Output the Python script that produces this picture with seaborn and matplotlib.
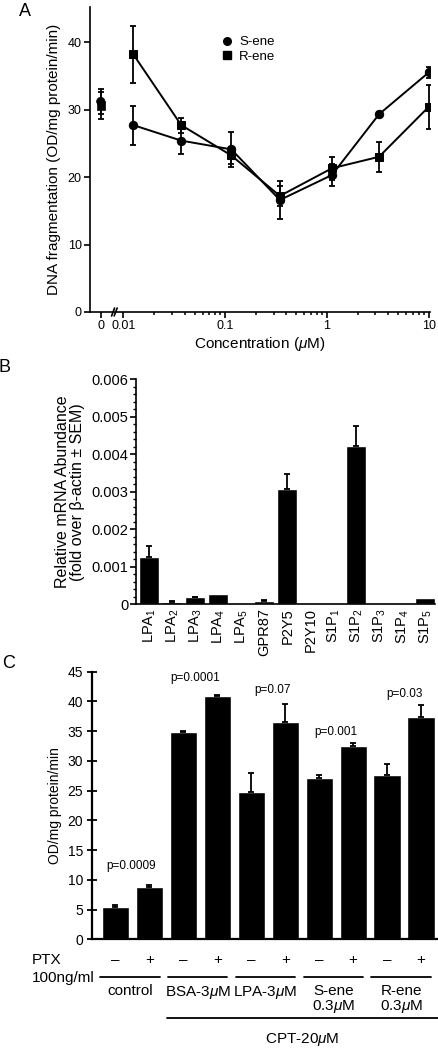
import numpy as np
import pandas as pd
import matplotlib
matplotlib.use('Agg')
import matplotlib.pyplot as plt
import matplotlib.transforms as mtransforms
from matplotlib.lines import Line2D
import seaborn as sns

# ---- panel A: DNA fragmentation vs concentration
conc = [0, 0.0125, 0.037, 0.115, 0.345, 1.12, 3.25, 10]
s_ene = [31.2, 27.7, 25.4, 24.1, 16.6, 20.3, 29.3, 35.5]
s_err = [1.9, 2.9, 2.0, 2.6, 2.8, 1.6, 0.3, 0.8]
r_ene = [30.6, 38.2, 27.7, 23.2, 17.2, 21.3, 23.0, 30.4]
r_err = [2.0, 4.2, 1.1, 1.2, 1.5, 1.7, 2.2, 3.3]
zero_pos = 0.006   # where "0" sits on the log axis

# ---- panel B: receptor mRNA
receptors = ['LPA$_1$', 'LPA$_2$', 'LPA$_3$', 'LPA$_4$', 'LPA$_5$', 'GPR87', 'P2Y5',
             'P2Y10', 'S1P$_1$', 'S1P$_2$', 'S1P$_3$', 'S1P$_4$', 'S1P$_5$']
abund = [0.00127, 0.00007, 0.00019, 0.00027, 0.000005, 0.0001, 0.00307,
         0.0, 0.00002, 0.00422, 0.00002, 0.0, 0.00016]
abund_err = [0.00027, 0.00001, 0.00001, 0.0, 0.0, 0.00001, 0.0004,
             0.0, 0.0, 0.00054, 0.0, 0.0, 0.0]

# ---- panel C: PTX
od = [5.5, 8.85, 34.85, 40.9, 24.8, 36.5, 27.2, 32.5, 27.6, 37.4]
od_err = [0.35, 0.3, 0.25, 0.25, 3.2, 3.1, 0.4, 0.45, 1.9, 2.0]
ptx = ['–', '+'] * 5
groups = ['control', 'BSA-3$\\mu$M', 'LPA-3$\\mu$M', 'S-ene\n0.3$\\mu$M', 'R-ene\n0.3$\\mu$M']
p_text = ['p=0.0009', 'p=0.0001', 'p=0.07', 'p=0.001', 'p=0.03']
p_x = [0.46, 2.35, 4.63, 6.49, 8.51]
p_y = [12.3, 43.9, 41.9, 34.9, 41.2]

sns.set_style('ticks')
plt.rcParams['font.family'] = ['Liberation Sans', 'DejaVu Sans']
plt.rcParams['mathtext.fontset'] = 'custom'
plt.rcParams['mathtext.rm'] = 'Liberation Sans'
plt.rcParams['mathtext.it'] = 'Liberation Sans:italic'
plt.rcParams['axes.edgecolor'] = 'black'
plt.rcParams['text.color'] = 'black'
plt.rcParams['xtick.color'] = 'black'
plt.rcParams['ytick.color'] = 'black'
plt.rcParams['axes.labelcolor'] = 'black'
plt.rcParams['axes.linewidth'] = 1.2

fig = plt.figure(figsize=(4.39, 10.48), dpi=100)
W, H = 439.0, 1048.0
def box(l, t, r, b):
    return [l / W, 1 - b / H, (r - l) / W, (b - t) / H]

axA = fig.add_axes(box(90, 7, 430, 312))
axB = fig.add_axes(box(136, 379, 435, 604.3))
axC = fig.add_axes(box(92, 671.7, 438, 939.3))

# ================= A
dfA = pd.DataFrame({
    'conc': conc * 2,
    'value': s_ene + r_ene,
    'err': s_err + r_err,
    'series': ['S-ene'] * len(conc) + ['R-ene'] * len(conc),
})
dfA['xpos'] = dfA['conc'].where(dfA['conc'] > 0, zero_pos)
axA.set_xscale('log')
line_df = dfA[dfA['conc'] > 0]
sns.lineplot(data=line_df, x='xpos', y='value', style='series',
             markers={'S-ene': 'o', 'R-ene': 's'}, dashes=False, color='black',
             markersize=6, markeredgecolor='black', lw=1.4, legend=False, ax=axA)
zero_df = dfA[dfA['conc'] == 0]
sns.scatterplot(data=zero_df, x='xpos', y='value', style='series',
                markers={'S-ene': 'o', 'R-ene': 's'}, color='black', s=36,
                edgecolor='black', legend=False, ax=axA)
axA.errorbar(dfA['xpos'], dfA['value'], yerr=dfA['err'], fmt='none',
             ecolor='black', elinewidth=1.3, capsize=2.5, capthick=1.3)
axA.set_xlim(0.0047, 10.3)
axA.set_ylim(0, 45.2)
axA.set_xticks([zero_pos, 0.01, 0.1, 1, 10])
axA.set_xticklabels(['0', '0.01', '0.1', '1', '10'])
minors = [k * d for d in (0.01, 0.1, 1) for k in range(2, 10)]
axA.set_xticks(minors, minor=True)
axA.set_xticklabels([], minor=True)
axA.set_yticks([0, 10, 20, 30, 40])
axA.tick_params(axis='both', which='major', labelsize=9, length=4, width=1.2, pad=2)
axA.tick_params(axis='x', which='minor', length=2.5, width=1.1)
axA.tick_params(axis='y', which='minor', left=False)
axA.set_xlabel('Concentration ($\\mu$M)', fontsize=11, labelpad=2)
axA.set_ylabel('DNA fragmentation (OD/mg protein/min)', fontsize=11, labelpad=5)
sns.despine(ax=axA)
brk = mtransforms.blended_transform_factory(axA.transData, axA.transAxes)
for x0, x1 in [(0.00766, 0.00819), (0.00812, 0.00869)]:
    axA.plot([x0, x1], [-0.013, 0.013], transform=brk, color='black', lw=1.2, clip_on=False)
handles = [Line2D([], [], marker='o', ls='none', color='black', markersize=5.5),
           Line2D([], [], marker='s', ls='none', color='black', markersize=5.5)]
axA.legend(handles, ['S-ene', 'R-ene'], loc='upper left', bbox_to_anchor=(0.385, 0.905),
           frameon=False, fontsize=9.5, handlelength=0.9, handletextpad=0.5,
           labelspacing=0.2, borderpad=0, borderaxespad=0)
axA.text(-0.19, 0.985, 'A', transform=axA.transAxes, fontsize=13, ha='center', va='center')

# ================= B
sns.barplot(x=receptors, y=abund, color='black', saturation=1, width=0.87,
            errorbar=None, ax=axB)
has_err = [i for i, e in enumerate(abund_err) if e > 0]
axB.errorbar(has_err, [abund[i] for i in has_err],
             yerr=[np.zeros(len(has_err)), [abund_err[i] for i in has_err]],
             fmt='none', ecolor='black', elinewidth=1.3, capsize=2.5, capthick=1.3)
axB.set_xlim(-0.58, 12.42)
axB.set_ylim(0, 0.006)
axB.set_yticks([0, 0.001, 0.002, 0.003, 0.004, 0.005, 0.006])
axB.set_yticklabels(['0', '0.001', '0.002', '0.003', '0.004', '0.005', '0.006'])
axB.set_yticks(np.arange(0, 0.0061, 0.0002), minor=True)
axB.tick_params(axis='y', which='major', labelsize=10.5, length=4, width=1.2, pad=1.5)
axB.tick_params(axis='y', which='minor', length=2, width=1.0)
axB.tick_params(axis='x', length=0, labelsize=10.5, pad=3, labelrotation=90)
axB.set_xlabel('')
axB.set_ylabel('Relative mRNA Abundance\n(fold over β-actin ± SEM)', fontsize=11.5,
               labelpad=5, linespacing=1.0)
sns.despine(ax=axB)
axB.text(-0.44, 1.05, 'B', transform=axB.transAxes, fontsize=13, ha='center', va='center')

# ================= C
sns.barplot(x=np.arange(len(od)), y=od, color='black', saturation=1, width=0.8,
            errorbar=None, ax=axC)
axC.errorbar(np.arange(len(od)), od, yerr=[np.zeros(len(od)), od_err],
             fmt='none', ecolor='black', elinewidth=1.3, capsize=2.5, capthick=1.3)
axC.set_xlim(-0.69, 9.5)
axC.set_ylim(0, 45)
axC.set_yticks(range(0, 46, 5))
axC.set_xticks([])
axC.tick_params(axis='y', labelsize=10, length=7, width=1.3, direction='inout', pad=3)
axC.set_ylabel('OD/mg protein/min', fontsize=10, labelpad=4)
axC.set_xlabel('')
for side in ['left', 'bottom']:
    axC.spines[side].set_linewidth(1.6)
sns.despine(ax=axC)
for x, y, t in zip(p_x, p_y, p_text):
    axC.text(x, y, t, ha='center', va='center', fontsize=8.5)

tr = mtransforms.blended_transform_factory(axC.transData, axC.transAxes)
for i, s in enumerate(ptx):
    axC.text(i, -0.077, s, transform=tr, ha='center', va='center', fontsize=11)
for g, lab in enumerate(groups):
    c = 2 * g + 0.42
    axC.plot([c - 0.88, c + 0.88], [-0.142, -0.142], transform=tr, color='black',
             lw=1.3, clip_on=False)
    axC.text(c, -0.168, lab, transform=tr, ha='center', va='top', fontsize=11,
             linespacing=1.0)
axC.plot([1.51, 9.49], [-0.294, -0.294], transform=tr, color='black', lw=1.3, clip_on=False)
axC.text(5.49, -0.376, 'CPT-20$\\mu$M', transform=tr, ha='center', va='center', fontsize=11)
fig.text(32 / W, 1 - 960 / H, 'PTX', ha='left', va='center', fontsize=11)
fig.text(32 / W, 1 - 978 / H, '100ng/ml', ha='left', va='center', fontsize=11)
axC.text(-0.24, 1.03, 'C', transform=axC.transAxes, fontsize=13, ha='center', va='center')

fig.savefig('out.png', dpi=100)
